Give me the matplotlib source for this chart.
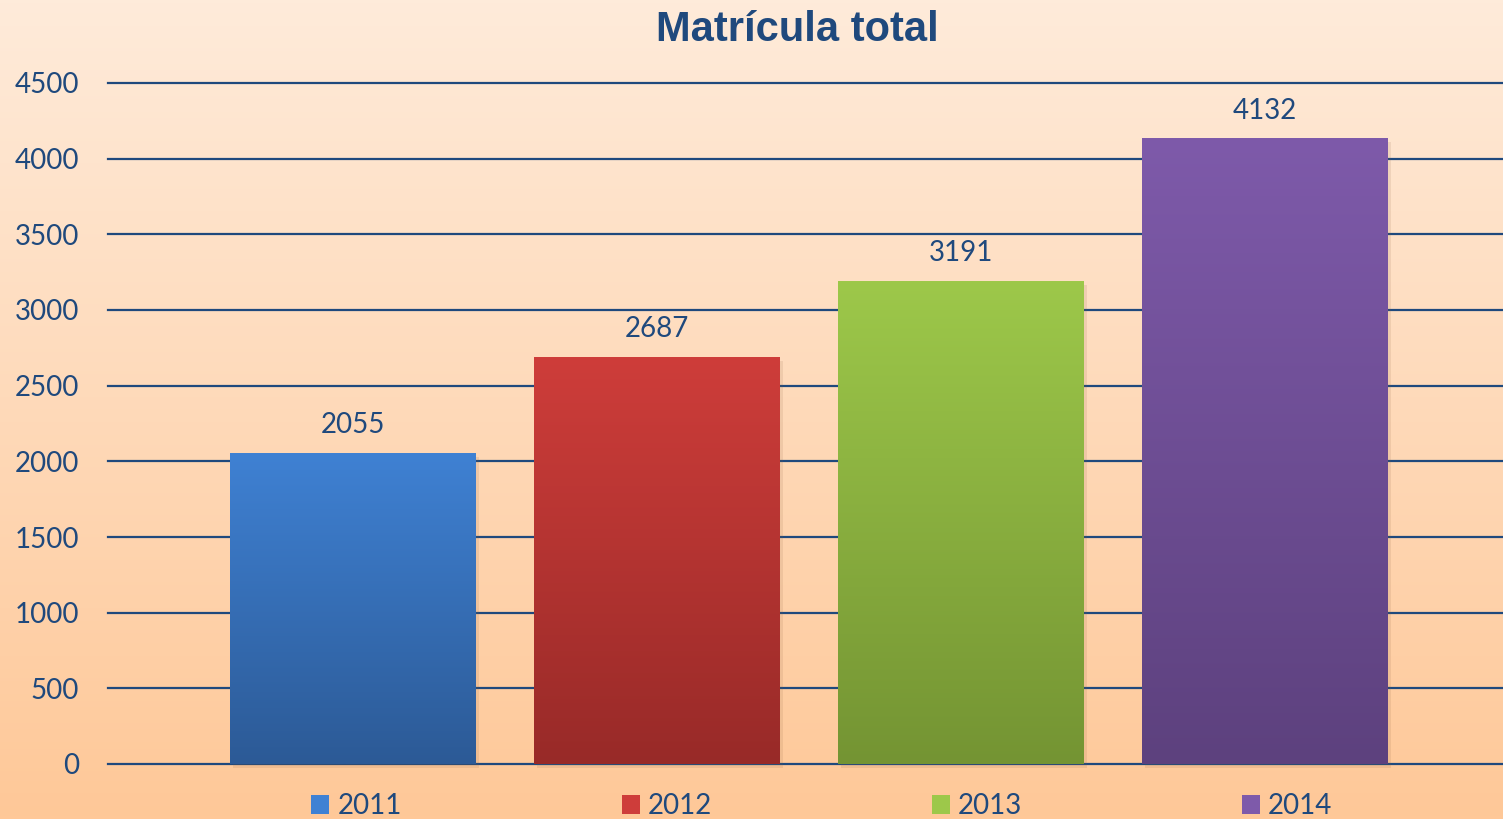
import numpy as np
import matplotlib.pyplot as plt
from matplotlib.patches import Patch
from matplotlib.colors import LinearSegmentedColormap

years = ["2011", "2012", "2013", "2014"]
matricula = [2055, 2687, 3191, 4132]
top_colors = ["#3F81D3", "#CE3D3A", "#9DC84A", "#7E5AAA"]
bottom_colors = ["#2C5A96", "#982A28", "#749433", "#5D417E"]

azul = "#1F497D"

fig = plt.figure(figsize=(15.03, 8.19), dpi=100)

# fondo degradado
bg = fig.add_axes([0, 0, 1, 1], zorder=-10)
bg_cmap = LinearSegmentedColormap.from_list("bg", ["#FEEBDA", "#FFC898"])
bg.imshow(np.linspace(0, 1, 256).reshape(-1, 1), cmap=bg_cmap, aspect="auto",
          extent=[0, 1, 0, 1], origin="upper")
bg.axis("off")

ax = fig.add_axes([108/1503, 1 - 764/819, 1 - 108/1503, (764 - 83)/819])
ax.patch.set_alpha(0)

x = np.arange(len(years))
w = 246/304
bars = ax.bar(x, matricula, width=w, color="none", zorder=3)
for i, b in enumerate(bars):
    # sombra suave
    ax.bar(x[i] + 0.01, matricula[i], width=w, bottom=-25, color="#8A5A3A",
           alpha=0.12, zorder=2.5, clip_on=False)
    cm = LinearSegmentedColormap.from_list("c%d" % i, [top_colors[i], bottom_colors[i]])
    ax.imshow(np.linspace(0, 1, 256).reshape(-1, 1), cmap=cm, aspect="auto",
              extent=[x[i] - w/2, x[i] + w/2, 0, matricula[i]], origin="upper", zorder=3)
    ax.text(x[i], matricula[i] + 100, str(matricula[i]), ha="center", va="bottom",
            fontsize=20, color=azul, family="Lato")

ax.set_xlim(-(353 - 108)/304, 3 + (1503 - 1265)/304)
ax.set_ylim(0, 4500)
ax.set_yticks(np.arange(0, 4501, 500))
ax.set_xticks([])
for yv in ax.get_yticks():
    ax.axhline(yv, color=azul, lw=1.6, zorder=1, clip_on=False)
for s in ax.spines.values():
    s.set_visible(False)
ax.tick_params(axis="y", length=0, pad=21, labelsize=20, labelcolor=azul)
for t in ax.get_yticklabels():
    t.set_family("Lato")

fig.text(797/1503, 1 - 30/819, "Matrícula total", ha="center", va="center",
         fontsize=30, fontweight="bold", color=azul, family="Liberation Sans")

handles = [Patch(facecolor=c, edgecolor="none") for c in top_colors]
leg = fig.legend(handles, years, loc="center", bbox_to_anchor=(822/1503, 1 - 806/819),
                 ncol=4, frameon=False, handlelength=0.65, handleheight=0.7,
                 handletextpad=0.3, columnspacing=7.9,
                 prop={"family": "Lato", "size": 20})
for t in leg.get_texts():
    t.set_color(azul)

fig.savefig("out.png", dpi=100)
